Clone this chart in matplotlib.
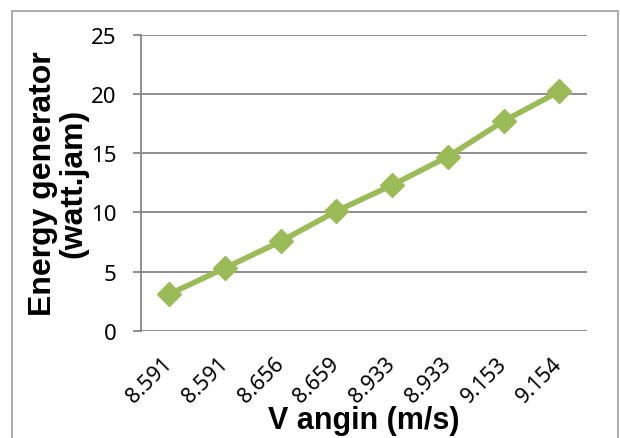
import matplotlib.pyplot as plt
from matplotlib.patches import Rectangle

# Data
speeds = ["8.591", "8.591", "8.656", "8.659", "8.933", "8.933", "9.153", "9.154"]
energy = [3.1, 5.3, 7.55, 10.1, 12.3, 14.7, 17.7, 20.2]
y_ticks = [0, 5, 10, 15, 20, 25]

green = "#9BBB59"
grid_gray = "#868686"

fig = plt.figure(figsize=(6.2, 4.39), dpi=100)
ax = fig.add_axes([0.228, 0.244, 0.719, 0.675])

x = list(range(len(speeds)))
ax.plot(x, energy, color=green, linewidth=4, marker="D", markersize=12,
        markerfacecolor=green, markeredgecolor=green, zorder=3)

ax.set_xlim(-0.5, len(speeds) - 0.5)
ax.set_ylim(0, 25)
ax.set_yticks(y_ticks)
ax.set_xticks(x)
ax.set_xticklabels(speeds, rotation=45, ha="right", rotation_mode="anchor",
                   va="center", fontsize=15.5, family="Noto Sans")
for lab in ax.get_yticklabels():
    lab.set_fontsize(16)
    lab.set_family("Noto Sans")

ax.grid(axis="y", color=grid_gray, linewidth=1.3)
ax.set_axisbelow(True)
for side in ["top", "right", "bottom"]:
    ax.spines[side].set_visible(False)
ax.spines["left"].set_color(grid_gray)
ax.spines["left"].set_linewidth(1.3)
ax.tick_params(axis="y", length=6, width=1.3, color=grid_gray, pad=12)
ax.tick_params(axis="x", length=0, pad=21)

ax.set_ylabel("Energy generator\n(watt.jam)", fontsize=23, fontweight="bold",
              family="Liberation Sans", linespacing=1.0, labelpad=2)

# x label placed directly so it sits at the bottom like the original
fig.text(364 / 620, 10 / 439, "V angin (m/s)", fontsize=22, fontweight="bold",
         family="Liberation Sans", ha="center", va="baseline")

# outer chart border
fig.patches.append(Rectangle((12 / 620, -0.1), 606 / 620, 1.1 - 12 / 439,
                             transform=fig.transFigure, fill=False,
                             edgecolor="#A0A0A0", linewidth=1.2))

fig.savefig("out.png", dpi=100)
